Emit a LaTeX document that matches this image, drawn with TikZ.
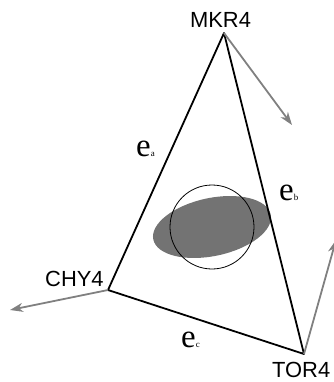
\documentclass[tikz,border=0pt]{standalone}
\usepackage{fontspec}
\setmainfont{Liberation Serif}
\newfontfamily\sitefont{Liberation Sans}
\usetikzlibrary{arrows.meta}

\begin{document}
\begin{tikzpicture}[x=1bp,y=-1bp,
  site/.style={inner sep=0pt,font=\sitefont\fontsize{22}{22}\selectfont},
  edgelbl/.style={inner sep=0pt,anchor=base west,font=\fontsize{33}{33}\selectfont},
  side/.style={line width=1.8pt,line join=round},
  motion/.style={draw=black!50,line width=1.8pt,-{Stealth[length=13pt,width=9pt,inset=4pt]}}]
\useasboundingbox (0,0) rectangle (334,382);
\clip (0,0) rectangle (334,382);
% stations
\coordinate (mkrp) at (224,33);
\coordinate (chyp) at (108,290);
\coordinate (torp) at (304,354);
\node[site,anchor=base] (mkr) at (220.5,27) {MKR4};
\node[site,anchor=base west] (chy) at (45,286) {CHY4};
\node[site,anchor=base west] (tor) at (272,377) {TOR4};
% strain ellipse and unit circle
\fill[black!55,rotate around={12:(212,227)}] (212,227) ellipse [x radius=60,y radius=29];
\draw[line width=0.8pt] (212,227) circle [radius=42];
% triangle sides
\draw[side] (mkrp) -- (chyp) -- (torp) -- cycle;
\node[edgelbl] (ea) at (136,156) {e\fontsize{9}{9}\selectfont a};
\node[edgelbl] (eb) at (279,200) {e\fontsize{9}{9}\selectfont b};
\node[edgelbl] (ec) at (181,347) {e\fontsize{9}{9}\selectfont c};
% velocities
\coordinate (mkrv) at (292,125);
\coordinate (chyv) at (10,310);
\coordinate (torv) at (336,240);
\draw[motion] (mkrp) -- (mkrv);
\draw[motion] (chyp) -- (chyv);
\draw[motion] (torp) -- (torv);
\end{tikzpicture}
\end{document}
